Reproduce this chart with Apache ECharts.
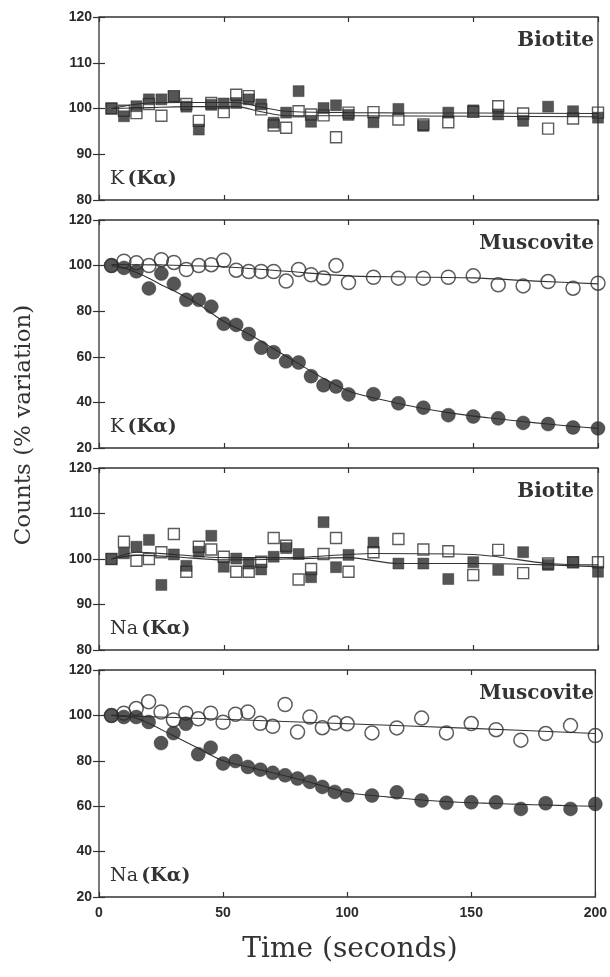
<!DOCTYPE html>
<html>
<head>
<meta charset="utf-8">
<script src="https://cdn.jsdelivr.net/npm/echarts@6/dist/echarts.min.js"></script>
<style>
html,body{margin:0;padding:0;background:#fff;}
#chart{width:610px;height:977px;}
</style>
</head>
<body>
<div id="chart"></div>
<script>
// Time of each measurement (seconds)
const times = [5,10,15,20,25,30,35,40,45,50,55,60,65,70,75,80,85,90,95,100,110,120,130,140,150,160,170,180,190,200];
const xTicks = [0,50,100,150,200];

// Panel 1: Biotite, K (Ka)
const kBioFilled = [100,98.3,100.5,102,102,102.6,100.4,95.4,100.8,101.1,101.2,102,100.9,96.9,99.1,103.8,97.1,100.1,100.7,98.6,97,99.9,96.2,99.1,99.6,98.7,97.3,100.4,99.4,98];
const kBioOpen   = [100,99.5,99,101,98.4,102.7,101,97.3,101.2,99.2,103,102.7,99.8,96.3,95.8,99.4,98.7,98.5,93.7,99.1,99.2,97.6,96.5,97,99.3,100.5,98.9,95.6,97.8,99.1];
const kBioFitUT  = [5,20,35,55,65,75,100,150,200];
const kBioFitU   = [100,101.2,101.3,101.3,100.3,99.4,99.1,99,98.9];
const kBioFitLT  = [5,20,35,55,65,75,100,150,200];
const kBioFitL   = [100,100.2,100.4,100.4,99.3,98.4,98.4,98.3,98.2];

// Panel 2: Muscovite, K (Ka)
const kMusFilled = [100,99,97.5,90,96.5,92,85,85,82,74.5,74,70,64,62,58,57.5,51.5,47.5,47,43.5,43.6,39.6,37.7,34.4,33.8,33,31,30.5,29,28.6];
const kMusOpen   = [100,101.9,101.2,100,102.6,101.4,98.3,100,100.4,102.3,98,97.4,97.4,97.4,93.2,98.3,96,94.6,100,92.6,94.9,94.5,94.5,94.9,95.5,91.6,91.1,93,90.1,92.3];
const kMusFitFT  = [5,10,15,20,25,30,40,50,60,70,80,90,100,110,120,130,140,150,160,170,180,190,200];
const kMusFitF   = [100,99,97,94.5,91.5,89,83,75.5,70,63.5,57,50.5,45,42,39.5,37.3,35.5,34,32.8,31.6,30.5,29.5,28.6];
const kMusFitOT  = [5,25,50,75,100,125,150,175,200];
const kMusFitO   = [100.5,100.3,99.5,97.5,95.5,95,94.6,93.2,92];

// Panel 3: Biotite, Na (Ka)
const naBioFilled = [100,101.25,102.7,104.2,94.3,101,98.5,101.6,105.1,98.3,100.1,99,97.7,100.5,102.4,101.1,96,108.1,98.2,100.9,103.6,99,99,95.6,99.3,97.6,101.5,98.7,99.3,97.2];
const naBioOpen   = [100,103.8,99.6,100,101.5,105.5,97.2,102.7,102.1,100.5,97.2,97.2,99.4,104.6,102.9,95.5,97.8,101.1,104.6,97.2,101.5,104.4,102.1,101.7,96.5,102,96.9,99,99.3,99.3];
const naBioFitUT  = [5,15,30,50,75,100,110,150,180,200];
const naBioFitU   = [100,101.5,101,100.3,100.3,101,101.2,101,99,98.7];
const naBioFitLT  = [5,15,30,50,75,100,120,150,180,200];
const naBioFitL   = [100,100.8,100.5,99.8,100,100.3,99,99,98.7,98.3];

// Panel 4: Muscovite, Na (Ka)
const naMusFilled = [100,99.3,99.3,97.1,87.8,92.2,96.3,82.9,85.8,78.8,79.9,77.3,76.1,74.7,73.6,72.2,70.7,68.5,66.3,64.8,64.7,66.1,62.5,61.5,61.7,61.7,58.8,61.3,58.8,61];
const naMusOpen   = [100,101,103,106,101.5,98,101,98.5,101,97,100.5,101.5,96.5,95.2,104.8,92.7,99.3,94.6,96.6,96.3,92.3,94.5,98.8,92.3,96.4,93.7,89.1,92,95.5,91.1];
const naMusFitFT  = [5,10,15,20,30,40,50,60,70,80,90,100,110,120,130,140,150,160,170,180,190,200];
const naMusFitF   = [100,99.6,98.8,96.5,91,85.5,80,77.3,74.7,72,69,66,64.7,63.7,62.7,62,61.5,61.2,60.8,60.5,60.2,60];
const naMusFitOT  = [5,50,100,150,200];
const naMusFitO   = [100,98.3,96.3,94.3,92];

const panelNames = ['Biotite','Muscovite','Biotite','Muscovite'];
const elemNames = ['K','K','Na','Na'];
const lineLabel = '(K\u03b1)';
const yRanges = [[80,120,10],[20,120,20],[80,120,10],[20,120,20]];

const panels = [
  {filled:kBioFilled, open:kBioOpen, fits:[[kBioFitUT,kBioFitU],[kBioFitLT,kBioFitL]], sym:'rect'},
  {filled:kMusFilled, open:kMusOpen, fits:[[kMusFitFT,kMusFitF],[kMusFitOT,kMusFitO]], sym:'circle'},
  {filled:naBioFilled, open:naBioOpen, fits:[[naBioFitUT,naBioFitU],[naBioFitLT,naBioFitL]], sym:'rect'},
  {filled:naMusFilled, open:naMusOpen, fits:[[naMusFitFT,naMusFitF],[naMusFitOT,naMusFitO]], sym:'circle'}
];

const gridBoxes = [[17,183],[220,228],[468,182],[670,227]];
const L = 99, R = 12;
const serif = 'DejaVu Serif';
const tickFont = {fontFamily:'Liberation Sans', fontWeight:'bold', fontSize:14, color:'#2a2a2a'};

const grids = [], xAxes = [], yAxes = [], series = [], graphics = [];
const pair = (xs, ys) => xs.map((x,i)=>[x, ys[i]]);

gridBoxes.forEach((g,i)=>{
  grids.push({left:L, right:R, top:g[0], height:g[1], show:true, borderColor:'#333', borderWidth:1.3, backgroundColor:'transparent'});
  const last = i === 3;
  xAxes.push({gridIndex:i, type:'value', min:xTicks[0], max:xTicks[xTicks.length-1], interval:xTicks[1]-xTicks[0], position:'bottom',
    axisLine:{show:false}, splitLine:{show:false},
    axisTick:{show:true, inside:true, length:5, lineStyle:{color:'#333', width:1.2}},
    axisLabel:Object.assign({show:last, margin:9, formatter:v=>String(v)}, tickFont)});
  xAxes.push({gridIndex:i, type:'value', min:xTicks[0], max:xTicks[xTicks.length-1], interval:xTicks[1]-xTicks[0], position:'top',
    axisLine:{show:false}, splitLine:{show:false},
    axisTick:{show:true, inside:true, length:5, lineStyle:{color:'#333', width:1.2}},
    axisLabel:{show:false}});
  const yr = yRanges[i];
  yAxes.push({gridIndex:i, type:'value', min:yr[0], max:yr[1], interval:yr[2], position:'left',
    axisLine:{show:false}, splitLine:{show:false},
    axisTick:{show:true, inside:true, length:6, lineStyle:{color:'#333', width:1.2}},
    axisLabel:Object.assign({margin:7, showMinLabel:true, showMaxLabel:true}, tickFont)});
  yAxes.push({gridIndex:i, type:'value', min:yr[0], max:yr[1], interval:yr[2], position:'right',
    axisLine:{show:false}, splitLine:{show:false},
    axisTick:{show:true, inside:true, length:6, lineStyle:{color:'#333', width:1.2}},
    axisLabel:{show:false}});

  const p = panels[i];
  const isC = p.sym === 'circle';
  p.fits.forEach(f=>{
    series.push({type:'line', xAxisIndex:2*i, yAxisIndex:2*i, data:pair(f[0], f[1]), symbol:'none', smooth:0.3,
      lineStyle:{color:'#333', width:1.1}, silent:true, z:2});
  });
  series.push({type:'scatter', xAxisIndex:2*i, yAxisIndex:2*i, data:pair(times, p.open), symbol:p.sym,
    symbolSize: isC ? 14 : 11,
    itemStyle:{color:'rgba(255,255,255,0)', borderColor:'#333', borderWidth: isC ? 1.5 : 1.4}, z:3});
  series.push({type:'scatter', xAxisIndex:2*i, yAxisIndex:2*i, data:pair(times, p.filled), symbol:p.sym,
    symbolSize: isC ? 14 : 11,
    itemStyle:{color:'#2a2a2a', borderColor:'#2a2a2a', borderWidth:0.5}, z:4});

  graphics.push({type:'text', right:16, top:g[0]+14, z:10,
    style:{text:panelNames[i], font:'bold 20px "DejaVu Serif"', fill:'#333'}});
  graphics.push({type:'text', left:110, top:g[0]+g[1]-30, z:10,
    style:{text:'{n|'+elemNames[i]+'} {b|'+lineLabel+'}',
      rich:{n:{fontFamily:serif, fontSize:19, fill:'#333', color:'#333'},
            b:{fontFamily:serif, fontSize:19, fontWeight:'bold', fill:'#333', color:'#333'}}}});
});

graphics.push({type:'text', x:350, y:950, z:10,
  style:{text:'Time (seconds)', font:'28px "DejaVu Serif"', fill:'#333', textAlign:'center', textVerticalAlign:'middle'}});
graphics.push({type:'text', x:24, y:425, rotation:Math.PI/2, z:10,
  style:{text:'Counts (% variation)', font:'23px "DejaVu Serif"', fill:'#333', textAlign:'center', textVerticalAlign:'middle'}});

const chart = echarts.init(document.getElementById('chart'), null, {renderer:'canvas'});
chart.setOption({
  animation:false,
  backgroundColor:'#fff',
  grid:grids, xAxis:xAxes, yAxis:yAxes, series:series, graphic:graphics
});
</script>
</body>
</html>
